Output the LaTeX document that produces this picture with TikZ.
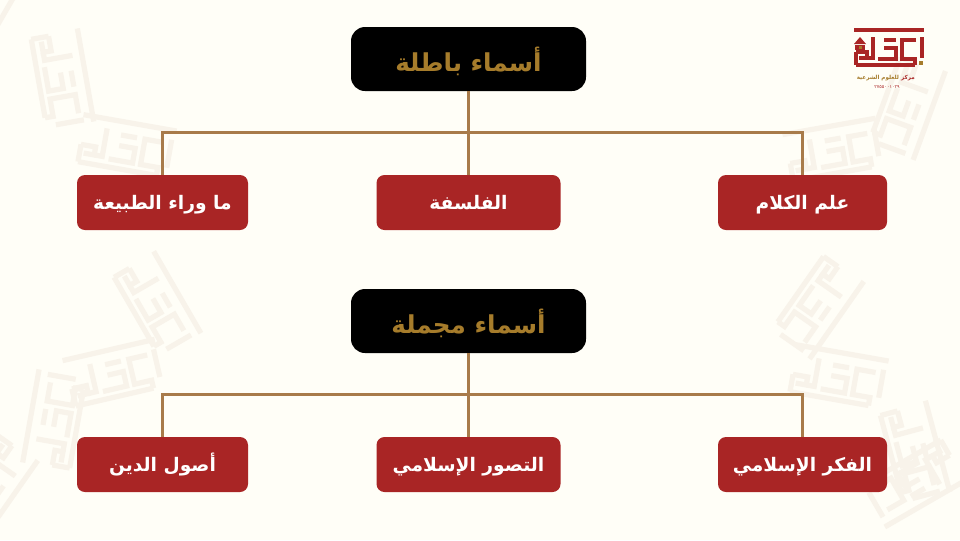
\documentclass[tikz,border=0pt]{standalone}
\usepackage{fontspec}
\usepackage{xcolor}
\usetikzlibrary{positioning}
\newfontfamily\arabicfont[Script=Arabic]{DejaVu Sans}
\TeXXeTstate=1
\definecolor{paper}{HTML}{FFFEF7}
\definecolor{wash}{HTML}{F8F3EA}
\definecolor{brick}{HTML}{A92525}
\definecolor{gold}{HTML}{A67C2B}
\definecolor{linkbrown}{HTML}{A87B4A}
\tikzset{
  kufic/.pic={
    \draw (0,2) -- (70,2);
    \draw (67.5,9) -- (67.5,30);
    \draw (2,37) -- (61,37);
    \draw (2,24) -- (2,37);
    \draw (2,24) -- (13,24) -- (13,30) -- (5,30);
    \draw (19,9) -- (19,30) -- (13,30);
    \draw (24,31) -- (42,31) -- (42,20) -- (30,20);
    \draw (30,12) -- (42,12);
    \draw (62,12) -- (48,12) -- (48,31) -- (61,31) -- (61,37);
  }
}
\begin{document}
\begin{tikzpicture}[x=0.75pt,y=-0.75pt,
    head/.style={rectangle, fill=black, text=gold, rounded corners=10.5pt, minimum width=176.25pt, minimum height=48pt, inner sep=0pt, text height=20pt, text depth=2pt, font=\arabicfont\bfseries\fontsize{18.5}{22}\selectfont},
    kid/.style={rectangle, fill=brick, text=white, rounded corners=6pt, minimum height=41.25pt, inner sep=0pt, text height=13pt, text depth=1.8pt, font=\arabicfont\bfseries\fontsize{14}{17}\selectfont},
    link/.style={draw=linkbrown, line width=2.25pt}]

    % Page
    \fill[paper] (0,0) rectangle (960,540);
    \useasboundingbox (0,0) rectangle (960,540);

    % Watermark
    \begin{scope}[color=wash, line width=3.9pt]
      \foreach \px/\py/\rot in {80/28/-80, 84/112/-10, 18/-5/-120, 156/250/-60, 62/358/13, 20/462/80, 40/462/-125,
          782/132/10, 948/72/-110, 866/283/-125, 796/342/-10, 928/400/-75, 968/482/-150}
        \pic[scale=1.35, rotate=\rot] at (\px,\py) {kufic};
    \end{scope}

    % Logo
    \begin{scope}[color=brick, line width=3pt]
      \pic at (854,28) {kufic};
    \end{scope}
    \fill[brick] (860,37) -- (866,44) -- (854,44) -- cycle;
    \fill[brick] (855,45) rectangle (865,50);
    \fill[gold] (858.5,46) rectangle (861.5,49);
    \fill[gold] (919,61) rectangle (923,65);
    \node[font=\arabicfont\bfseries\fontsize{4.2}{5}\selectfont, text=brick, inner sep=0pt, anchor=east] (logoword) at (915,78) {\beginR مركز\endR};
    \node[font=\arabicfont\bfseries\fontsize{4.2}{5}\selectfont, text=gold, inner sep=0pt, left=1.2pt of logoword] (logotitle) {\beginR للعلوم الشرعية\endR};
    \node[font=\arabicfont\fontsize{3.5}{4}\selectfont, text=brick, inner sep=0pt] (logonum) at (887,87) {٢٧٥٥٠٠١٠٢٩};

    % First group
    \node[head] (falsehead) at (468.5,59) {\beginR أسماء باطلة\endR};
    \node[kid, minimum width=128.25pt] (metaphysics) at (162.5,202.5) {\beginR ما وراء الطبيعة\endR};
    \node[kid, minimum width=138pt] (philosophy) at (468.5,202.5) {\beginR الفلسفة\endR};
    \node[kid, minimum width=126.75pt] (kalam) at (802.5,202.5) {\beginR علم الكلام\endR};
    \coordinate (falsebus) at (468.5,132);

    % Second group
    \node[head] (vaguehead) at (468.5,321) {\beginR أسماء مجملة\endR};
    \node[kid, minimum width=128.25pt] (usul) at (162.5,464.5) {\beginR أصول الدين\endR};
    \node[kid, minimum width=138pt] (tasawwur) at (468.5,464.5) {\beginR التصور الإسلامي\endR};
    \node[kid, minimum width=126.75pt] (fikr) at (802.5,464.5) {\beginR الفكر الإسلامي\endR};
    \coordinate (vaguebus) at (468.5,394);

    % Links
    \draw[link] (falsehead) -- (falsebus);
    \draw[link] (falsebus) -| (metaphysics);
    \draw[link] (falsebus) -- (philosophy);
    \draw[link] (falsebus) -| (kalam);
    \draw[link] (vaguehead) -- (vaguebus);
    \draw[link] (vaguebus) -| (usul);
    \draw[link] (vaguebus) -- (tasawwur);
    \draw[link] (vaguebus) -| (fikr);
\end{tikzpicture}
\end{document}
